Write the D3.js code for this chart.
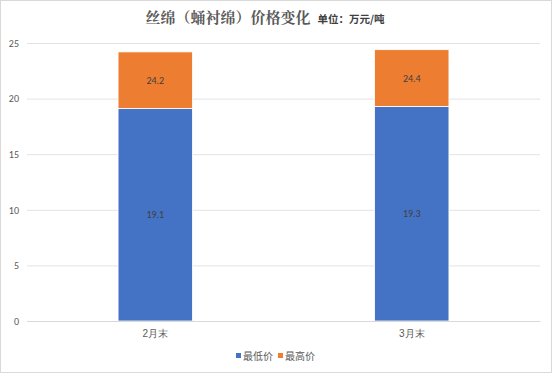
<!DOCTYPE html>
<html>
<head>
<meta charset="utf-8">
<script src="https://cdn.jsdelivr.net/npm/d3@7"></script>
<style>
  body { margin: 0; background: #fff; }
  svg { display: block; }
</style>
</head>
<body>
<div id="chart"></div>
<script>
// data
const categories = ['2月末', '3月末'];
const lowPrice = [19.1, 19.3];
const highPrice = [24.2, 24.4];
const seriesNames = ['最低价', '最高价'];
const seriesColors = ['#4472c4', '#ed7d31'];
const yTicks = [0, 5, 10, 15, 20, 25];

const width = 554, height = 375;
const margin = { top: 43, right: 14, bottom: 54, left: 27 };

const svg = d3.select('#chart').append('svg')
  .attr('width', width)
  .attr('height', height)
  .style('font-family', '"Microsoft YaHei", "Noto Sans CJK SC", sans-serif');

// outer frame
svg.append('rect')
  .attr('x', 0.5).attr('y', 0.5)
  .attr('width', width - 3).attr('height', height - 3)
  .attr('fill', '#fff')
  .attr('stroke', '#d9d9d9');

const x = d3.scaleBand()
  .domain(categories)
  .range([margin.left, width - margin.right])
  .paddingInner(0.71)
  .paddingOuter(0.355);

const y = d3.scaleLinear()
  .domain([0, 25])
  .range([height - margin.bottom, margin.top]);

// grid
svg.append('g')
  .attr('class', 'grid')
  .attr('transform', 'translate(' + margin.left + ',0)')
  .call(d3.axisLeft(y).tickValues(yTicks).tickSize(-(width - margin.left - margin.right)).tickFormat(() => ''))
  .call(g => g.select('.domain').remove())
  .call(g => g.selectAll('line').attr('stroke', '#e3e3e3').attr('stroke-width', 1));

// y labels
svg.append('g')
  .attr('transform', 'translate(' + margin.left + ',0)')
  .call(d3.axisLeft(y).tickValues(yTicks).tickSize(0).tickPadding(8))
  .call(g => g.select('.domain').remove())
  .call(g => g.selectAll('text').attr('fill', '#595959').style('font-size', '10px').style('font-family', 'Calibri, "Liberation Sans", "Noto Sans", sans-serif'));

// stacked bars
const rows = categories.map((c, i) => ({ cat: c, low: lowPrice[i], high: highPrice[i] }));

svg.append('g').selectAll('rect.low')
  .data(rows)
  .enter().append('rect')
  .attr('class', 'low')
  .attr('x', d => x(d.cat))
  .attr('width', x.bandwidth())
  .attr('y', d => y(d.low))
  .attr('height', d => y(0) - y(d.low))
  .attr('fill', seriesColors[0])
  .attr('stroke', '#fff')
  .attr('stroke-width', 0.8);

svg.append('g').selectAll('rect.high')
  .data(rows)
  .enter().append('rect')
  .attr('class', 'high')
  .attr('x', d => x(d.cat))
  .attr('width', x.bandwidth())
  .attr('y', d => y(d.high))
  .attr('height', d => y(d.low) - y(d.high))
  .attr('fill', seriesColors[1])
  .attr('stroke', '#fff')
  .attr('stroke-width', 0.8);

// x axis line
svg.append('g')
  .attr('transform', 'translate(0,' + y(0) + ')')
  .call(d3.axisBottom(x).tickSize(0).tickPadding(9))
  .call(g => g.select('.domain').attr('stroke', '#d9d9d9'))
  .call(g => g.selectAll('text').attr('fill', '#595959').style('font-size', '10px'));

// value labels
const lbl = svg.append('g')
  .style('font-size', '10px')
  .attr('fill', '#404040')
  .attr('text-anchor', 'middle');

lbl.selectAll('text.lowLbl')
  .data(rows).enter().append('text')
  .attr('x', d => x(d.cat) + x.bandwidth() / 2)
  .attr('y', d => (y(0) + y(d.low)) / 2)
  .attr('dy', '0.35em')
  .style('font-family', 'Calibri, "Liberation Sans", sans-serif')
  .text(d => d.low.toFixed(1));

lbl.selectAll('text.highLbl')
  .data(rows).enter().append('text')
  .attr('x', d => x(d.cat) + x.bandwidth() / 2)
  .attr('y', d => (y(d.low) + y(d.high)) / 2)
  .attr('dy', '0.35em')
  .style('font-family', 'Calibri, "Liberation Sans", sans-serif')
  .text(d => d.high.toFixed(1));

// title
const title = svg.append('text')
  .attr('x', 265)
  .attr('y', 23)
  .attr('text-anchor', 'middle')
  .attr('fill', '#595959');
title.append('tspan')
  .style('font-size', '15px')
  .style('font-weight', 'bold')
  .style('font-family', '"Noto Serif CJK SC", "Noto Sans CJK SC", serif')
  .text('丝绵（蛹衬绵）价格变化');
title.append('tspan')
  .attr('dx', 7)
  .style('font-size', '10.5px')
  .style('font-weight', 'bold')
  .attr('fill', '#404040')
  .text('单位：万元/吨');

// legend
const legend = svg.append('g').attr('transform', 'translate(236,356)');
let lx = 0;
seriesNames.forEach((name, i) => {
  legend.append('rect')
    .attr('x', lx).attr('y', -3)
    .attr('width', 5).attr('height', 5)
    .attr('fill', seriesColors[i]);
  legend.append('text')
    .attr('x', lx + 7).attr('y', 0)
    .attr('dy', '0.35em')
    .attr('fill', '#595959')
    .style('font-size', '10px')
    .text(name);
  lx += 42;
});
</script>
</body>
</html>
